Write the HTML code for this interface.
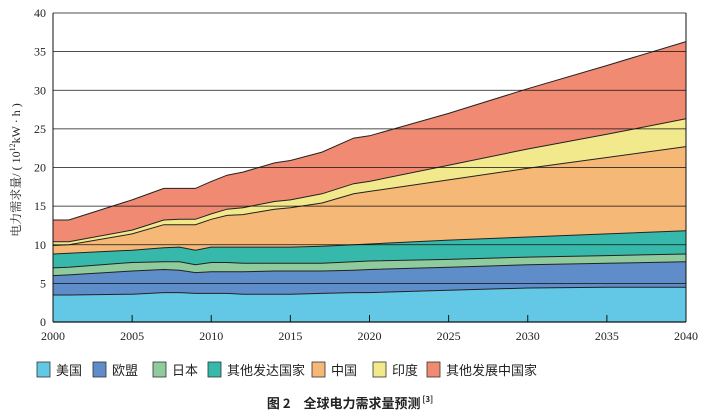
<!DOCTYPE html>
<html><head><meta charset="utf-8"><style>
body{margin:0;background:#fff;width:702px;height:417px;overflow:hidden;font-family:"Liberation Serif","Noto Serif CJK SC",serif;}
</style></head><body>
<svg id="s" width="702" height="417" xmlns="http://www.w3.org/2000/svg" style="position:absolute;left:0;top:0">
</svg>
<script>
var S=document.getElementById('s');
function X(y){return 53+(y-2000)*15.825;}
function Y(v){return 322-v*7.725;}
var yrs=[2000,2001,2005,2007,2008,2009,2010,2011,2012,2014,2015,2017,2019,2020,2025,2030,2035,2040];
var d=[
[3.5,6.0,7.0,8.8,9.9,10.4,13.2],
[3.5,6.1,7.1,8.9,10.0,10.4,13.2],
[3.6,6.6,7.7,9.3,11.4,11.9,15.8],
[3.8,6.8,7.8,9.6,12.6,13.2,17.3],
[3.8,6.7,7.8,9.7,12.6,13.3,17.3],
[3.7,6.4,7.4,9.3,12.6,13.3,17.3],
[3.7,6.5,7.7,9.7,13.3,14.0,18.2],
[3.7,6.5,7.7,9.7,13.8,14.6,19.0],
[3.6,6.5,7.6,9.7,13.9,14.8,19.4],
[3.6,6.6,7.6,9.7,14.6,15.6,20.6],
[3.6,6.6,7.6,9.7,14.8,15.8,20.9],
[3.7,6.6,7.6,9.8,15.4,16.6,22.0],
[3.8,6.7,7.8,10.0,16.6,17.9,23.8],
[3.8,6.8,7.9,10.1,16.9,18.2,24.1],
[4.1,7.1,8.1,10.6,18.4,20.3,27.0],
[4.4,7.4,8.4,11.0,19.9,22.4,30.2],
[4.5,7.6,8.6,11.4,21.3,24.3,33.2],
[4.5,7.8,8.8,11.8,22.7,26.3,36.3]];
var cols=['#63c8e6','#5e8dc9','#8fcb9c','#36b9aa','#f5b877','#f1e98c','#f08a72'];
var h='';
for(var k=6;k>=0;k--){
 var p='';
 for(var i=0;i<yrs.length;i++)p+=X(yrs[i]).toFixed(1)+','+Y(d[i][k]).toFixed(1)+' ';
 p+=X(2040)+','+Y(0)+' '+X(2000)+','+Y(0);
 h+='<polygon points="'+p+'" fill="'+cols[k]+'"/>';
}
for(var k=0;k<7;k++){
 var p='';
 for(var i=0;i<yrs.length;i++)p+=X(yrs[i]).toFixed(1)+','+Y(d[i][k]).toFixed(1)+' ';
 h+='<polyline points="'+p+'" fill="none" stroke="#222" stroke-width="1"/>';
}
for(var v=5;v<=40;v+=5)h+='<line x1="53" x2="686" y1="'+Y(v)+'" y2="'+Y(v)+'" stroke="#111" stroke-width="0.8"/>';
h+='<line x1="53" x2="53" y1="13" y2="322" stroke="#111" stroke-width="1"/>';
h+='<line x1="686" x2="686" y1="13" y2="322" stroke="#111" stroke-width="1"/>';
h+='<line x1="53" x2="686" y1="322" y2="322" stroke="#111" stroke-width="1.2"/>';
for(var v=0;v<=40;v+=5)h+='<text x="46" y="'+(Y(v)+4)+'" font-size="12" text-anchor="end" fill="#222">'+v+'</text>';
for(var y=2000;y<=2040;y+=5){h+='<line x1="'+X(y)+'" x2="'+X(y)+'" y1="315" y2="322" stroke="#111"/>';
 h+='<text x="'+X(y)+'" y="340" font-size="12" text-anchor="middle" fill="#222">'+y+'</text>';}
h+='<text transform="translate(20,170) rotate(-90)" font-size="12" text-anchor="middle" fill="#222">电力需求量/ ( 10<tspan font-size="8" dy="-5">12</tspan><tspan dy="5">kW · h )</tspan></text>';
var lx=[37,93,153,208,312,373,427],ln=['美国','欧盟','日本','其他发达国家','中国','印度','其他发展中国家'];
for(var i=0;i<7;i++){h+='<rect x="'+lx[i]+'" y="362" width="13" height="15" fill="'+cols[i]+'" stroke="#333" stroke-width="0.8"/>';
 h+='<text x="'+(lx[i]+19)+'" y="375" font-size="13" fill="#222" font-family="Noto Sans CJK SC,sans-serif">'+ln[i]+'</text>';}
h+='<text x="350" y="408" font-size="13" font-weight="bold" text-anchor="middle" fill="#222" font-family="Noto Sans CJK SC,sans-serif">图 2　全球电力需求量预测<tspan font-size="8" dy="-6"> [3]</tspan></text>';
S.innerHTML=h;
</script>
</body></html>
